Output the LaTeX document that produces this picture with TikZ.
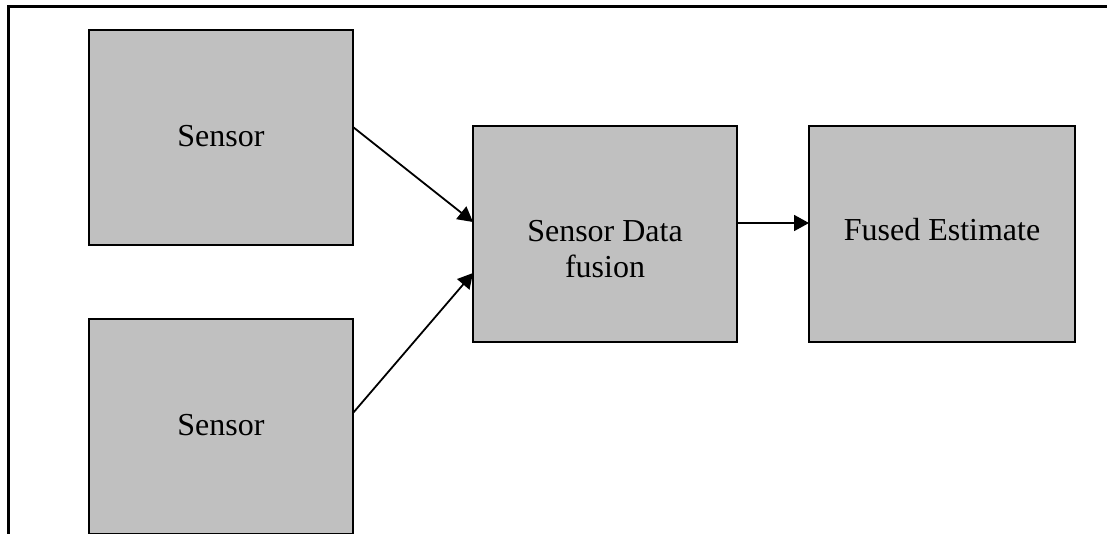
\documentclass[tikz,border=0pt]{standalone}
\usepackage{fontspec}
\setmainfont{Liberation Serif}
\usetikzlibrary{arrows.meta}
\definecolor{boxgray}{HTML}{C0C0C0}
\tikzset{
  blockbox/.style={draw=black, line width=2pt, fill=boxgray, inner sep=0pt,
    outer sep=0pt, anchor=north west},
  blocktext/.style={font=\fontsize{32}{36}\selectfont, anchor=base,
    align=center, inner sep=0pt},
  flow/.style={line width=1.8pt, -{Triangle[length=15pt,width=16pt]}},
  frameline/.style={line width=3pt, line join=miter},
}
\begin{document}
\begin{tikzpicture}
  \clip (0,0) rectangle (1107pt,-533pt);

  % outer frame: only the top and left edges are visible
  \draw[frameline] (8pt,-540pt) -- (8pt,-6.7pt) -- (1110pt,-6.7pt);

  % blocks
  \node[blockbox, minimum width=264pt, minimum height=215pt] (s1) at (89pt,-30pt) {};
  \node[blockbox, minimum width=264pt, minimum height=215pt] (s2) at (89pt,-319pt) {};
  \node[blockbox, minimum width=264pt, minimum height=216pt] (fus) at (473pt,-126pt) {};
  \node[blockbox, minimum width=266pt, minimum height=216pt] (est) at (809pt,-126pt) {};

  % block labels, set from the top of each block
  \node[blocktext] (t1) at ([yshift=-116pt]s1.north) {Sensor};
  \node[blocktext] (t2) at ([yshift=-116pt]s2.north) {Sensor};
  \node[blocktext] (t3) at ([yshift=-151pt]fus.north) {Sensor Data\\fusion};
  \node[blocktext] (t4) at ([yshift=-114pt]est.north) {Fused Estimate};

  % connectors
  \draw[flow] ([yshift=10.5pt]s1.east) -- ([yshift=12pt]fus.west);
  \draw[flow] ([yshift=13.5pt]s2.east) -- ([yshift=-39pt]fus.west);
  \draw[flow] ([yshift=11pt]fus.east) -- ([yshift=11pt]est.west);
\end{tikzpicture}
\end{document}
